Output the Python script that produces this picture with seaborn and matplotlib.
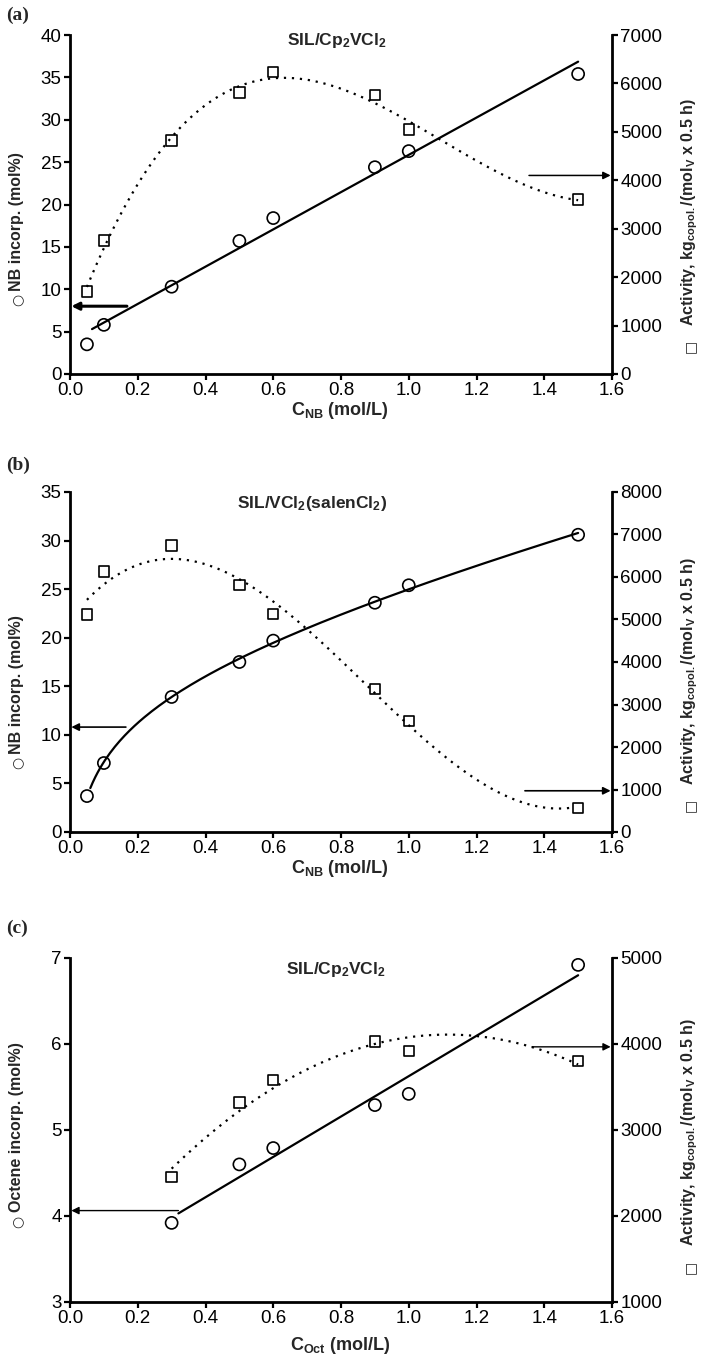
import numpy as np
import pandas as pd
import matplotlib
matplotlib.use("Agg")
import matplotlib.pyplot as plt
import seaborn as sns

# ---------------- data ----------------
# Panel (a): SIL/Cp2VCl2, NB
a_x = [0.05, 0.1, 0.3, 0.5, 0.6, 0.9, 1.0, 1.5]
a_inc = [3.5, 5.8, 10.3, 15.7, 18.4, 24.4, 26.3, 35.4]
a_act = [1700, 2760, 4820, 5810, 6240, 5760, 5050, 3600]
# Panel (b): SIL/VCl2(salenCl2), NB
b_x = [0.05, 0.1, 0.3, 0.5, 0.6, 0.9, 1.0, 1.5]
b_inc = [3.7, 7.1, 13.9, 17.5, 19.7, 23.6, 25.4, 30.6]
b_act = [5120, 6125, 6745, 5805, 5130, 3360, 2610, 570]
# Panel (c): SIL/Cp2VCl2, octene
c_x = [0.3, 0.5, 0.6, 0.9, 1.0, 1.5]
c_inc = [3.92, 4.60, 4.79, 5.29, 5.42, 6.92]
c_act = [2450, 3320, 3580, 4030, 3920, 3800]

x_ticks = [0.0, 0.2, 0.4, 0.6, 0.8, 1.0, 1.2, 1.4, 1.6]
x_ticklabels = ["0.0", "0.2", "0.4", "0.6", "0.8", "1.0", "1.2", "1.4", "1.6"]

# ---------------- style ----------------
sns.set_theme(style="ticks")
plt.rcParams["font.family"] = ["Liberation Sans", "DejaVu Sans"]
plt.rcParams["mathtext.fontset"] = "custom"
plt.rcParams["mathtext.rm"] = "Liberation Sans"
plt.rcParams["mathtext.it"] = "Liberation Sans:italic"
plt.rcParams["mathtext.bf"] = "Liberation Sans:bold"
plt.rcParams["axes.unicode_minus"] = False

W, H = 706, 1366
fig = plt.figure(figsize=(W / 100, H / 100), dpi=100)


def fpos(left, top, right, bottom):
    return [left / W, 1 - bottom / H, (right - left) / W, (bottom - top) / H]


def pix(x, y):
    return x / W, 1 - y / H


def fit_poly(x, y, deg, lo, hi):
    p = np.polyfit(x, y, deg)
    xs = np.linspace(lo, hi, 200)
    return xs, np.polyval(p, xs)


def fit_logx(x, y, lo, hi):
    x = np.asarray(x, float)
    A = np.column_stack([np.ones_like(x), np.log(x), x])
    coef, *_ = np.linalg.lstsq(A, np.asarray(y, float), rcond=None)
    xs = np.linspace(lo, hi, 200)
    return xs, coef[0] + coef[1] * np.log(xs) + coef[2] * xs


def style_axes(ax, ax2):
    for a in (ax, ax2):
        a.spines["top"].set_visible(False)
        for s in ("left", "right", "bottom"):
            a.spines[s].set_linewidth(2.0)
            a.spines[s].set_color("black")
        a.tick_params(direction="out", length=4, width=1.6, labelsize=13.5,
                      colors="black", pad=2)
    ax2.spines["left"].set_visible(False)
    ax2.spines["bottom"].set_visible(False)
    ax.spines["right"].set_visible(False)
    ax.set_xlim(0, 1.6)
    ax.set_xticks(x_ticks)
    ax.set_xticklabels(x_ticklabels)
    ax.set_xlabel("")
    ax.set_ylabel("")
    ax2.set_ylabel("")


def vlabel(x, y_sym, y_text, sym, text):
    # symbol (bigger glyph from DejaVu) + rotated bold text going upward
    fig.text(*pix(x, y_sym), sym, rotation=90, ha="center", va="center",
             fontsize=10, family=["DejaVu Sans"])
    fig.text(*pix(x, y_text), text, rotation=90, rotation_mode="anchor",
             ha="left", va="center", fontsize=11.5, fontweight="bold")


def panel(pos, xs, inc, act, inc_line, act_line, ylim1, yt1, ylim2, yt2,
          title, title_xy, letter, letter_y, xlabel, xlabel_y,
          llab, lsym_y, ltxt_y, rsym_y, rtxt_y, larrow, rarrow,
          larrow_lw, rarrow_lw):
    ax = fig.add_axes(fpos(*pos))
    ax2 = ax.twinx()
    ax.set_facecolor("none")

    df = pd.DataFrame({"x": xs, "inc": inc, "act": act})

    lx, ly = inc_line
    sns.lineplot(x=lx, y=ly, ax=ax, color="black", lw=1.6, sort=False,
                 estimator=None)
    dx, dy = act_line
    sns.lineplot(x=dx, y=dy, ax=ax2, color="black", lw=1.6, sort=False,
                 estimator=None, linestyle=(0, (1, 2.6)))

    sns.scatterplot(data=df, x="x", y="inc", ax=ax, marker="o", s=76,
                    color="black", facecolor="none", edgecolor="black",
                    linewidth=1.2, zorder=5)
    sns.scatterplot(data=df, x="x", y="act", ax=ax2, marker="s", s=56,
                    color="black", facecolor="none", edgecolor="black",
                    linewidth=1.2, zorder=5)

    ax.set_ylim(*ylim1)
    ax.set_yticks(yt1)
    ax2.set_ylim(*ylim2)
    ax2.set_yticks(yt2)
    style_axes(ax, ax2)

    # arrows
    ax.annotate("", xy=(0.004, larrow[1]), xytext=(larrow[0], larrow[1]),
                arrowprops=dict(arrowstyle="-|>", color="black",
                                lw=larrow_lw, shrinkA=0, shrinkB=0,
                                mutation_scale=11))
    ax2.annotate("", xy=(1.596, rarrow[1]), xytext=(rarrow[0], rarrow[1]),
                 arrowprops=dict(arrowstyle="-|>", color="black",
                                 lw=rarrow_lw, shrinkA=0, shrinkB=0,
                                 mutation_scale=11))

    ax.text(title_xy[0], title_xy[1], title, transform=ax.transAxes,
            ha="center", va="center", fontsize=12.5, fontweight="bold")
    ax.text(0.498, xlabel_y, xlabel, transform=ax.transAxes, ha="center",
            va="center", fontsize=13, fontweight="bold")
    vlabel(17, lsym_y, ltxt_y, "\u25cb", llab)
    vlabel(690, rsym_y, rtxt_y, "\u25a1",
           "Activity, kg$_{\\mathbf{copol.}}$/(mol$_{\\mathbf{V}}$ x 0.5 h)")
    fig.text(6 / W, letter_y, letter, ha="left", va="center", fontsize=14,
             fontweight="bold", family=["Liberation Serif", "DejaVu Serif"])
    return ax, ax2


# (a)
panel((70, 35, 612, 374), a_x, a_inc, a_act,
      fit_poly(a_x, a_inc, 1, 0.065, 1.5), fit_poly(a_x, a_act, 3, 0.05, 1.5),
      (0, 40), [0, 5, 10, 15, 20, 25, 30, 35, 40],
      (0, 7000), [0, 1000, 2000, 3000, 4000, 5000, 6000, 7000],
      "SIL/Cp$_{\\mathbf{2}}$VCl$_{\\mathbf{2}}$", (0.493, 0.985),
      "(a)", 1 - 15 / H, "C$_{\\mathbf{NB}}$ (mol/L)", -0.108,
      "NB incorp. (mol%)", 300, 291, 346, 326,
      (0.168, 8.0), (1.355, 4100), 2.2, 1.1)

# (b)
panel((70, 492, 612, 832), b_x, b_inc, b_act,
      fit_logx(b_x, b_inc, 0.06, 1.5), fit_poly(b_x, b_act, 3, 0.05, 1.48),
      (0, 35), [0, 5, 10, 15, 20, 25, 30, 35],
      (0, 8000), [0, 1000, 2000, 3000, 4000, 5000, 6000, 7000, 8000],
      "SIL/VCl$_{\\mathbf{2}}$(salenCl$_{\\mathbf{2}}$)", (0.447, 0.967),
      "(b)", 1 - 465 / H, "C$_{\\mathbf{NB}}$ (mol/L)", -0.108,
      "NB incorp. (mol%)", 763, 754, 805, 785,
      (0.165, 10.8), (1.343, 970), 1.2, 1.2)

# (c)
panel((70, 958, 612, 1302), c_x, c_inc, c_act,
      fit_poly(c_x, c_inc, 1, 0.32, 1.5), fit_poly(c_x, c_act, 2, 0.3, 1.5),
      (3, 7), [3, 4, 5, 6, 7],
      (1000, 5000), [1000, 2000, 3000, 4000, 5000],
      "SIL/Cp$_{\\mathbf{2}}$VCl$_{\\mathbf{2}}$", (0.49, 0.966),
      "(c)", 1 - 928 / H, "C$_{\\mathbf{Oct}}$ (mol/L)", -0.125,
      "Octene incorp. (mol%)", 1222, 1212, 1267, 1246,
      (0.32, 4.063), (1.364, 3967), 1.0, 1.0)

fig.savefig("out.png", dpi=100, facecolor="white")
